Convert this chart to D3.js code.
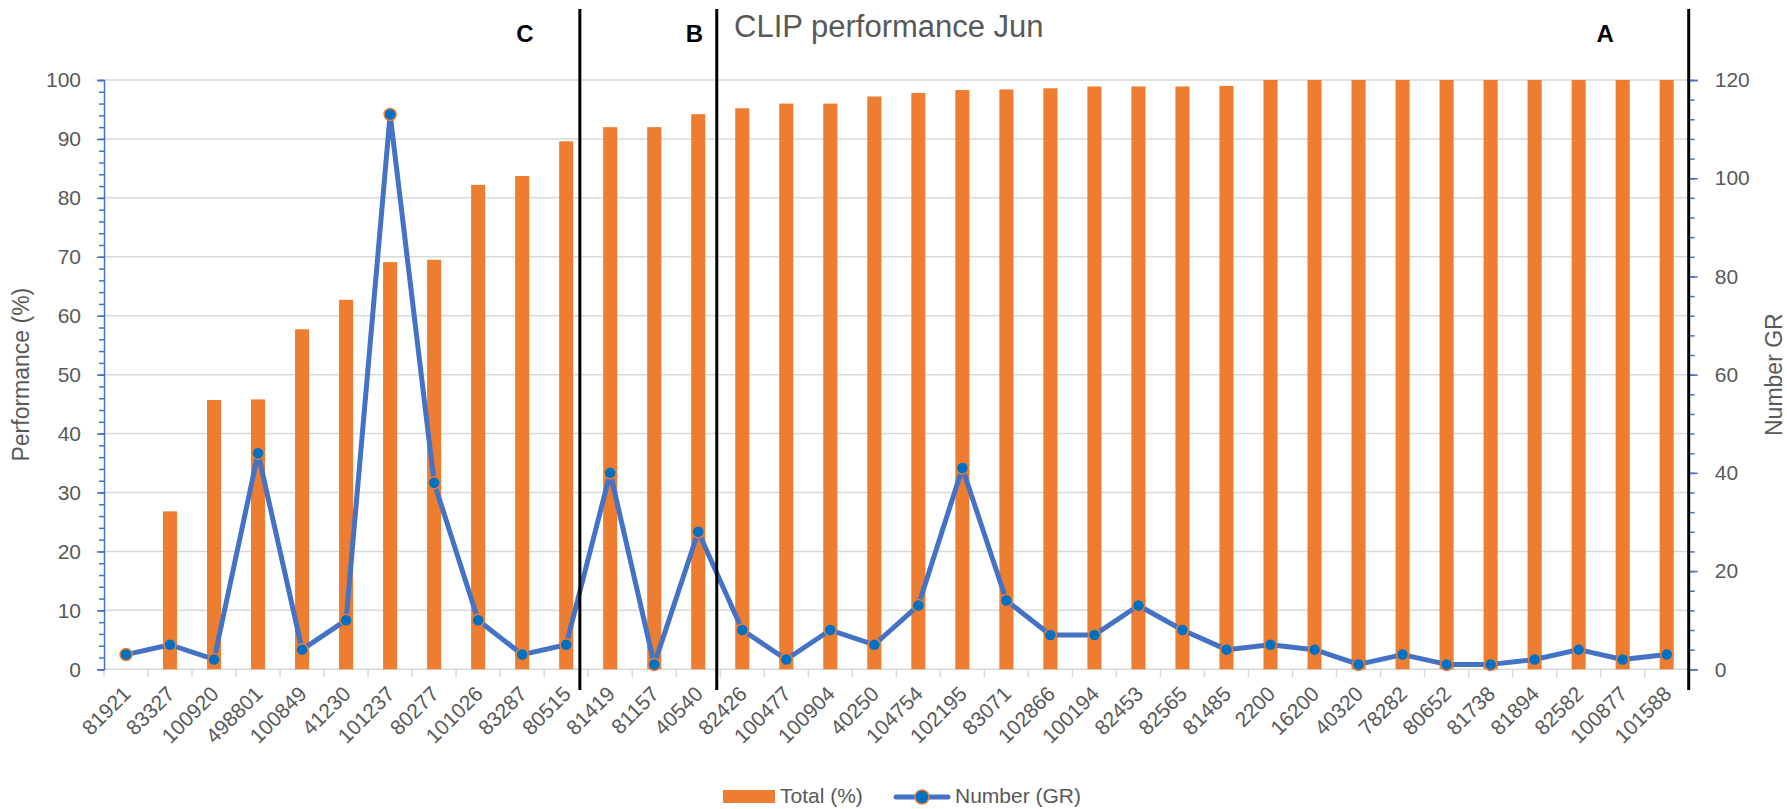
<!DOCTYPE html>
<html><head><meta charset="utf-8">
<script src="https://cdn.jsdelivr.net/npm/d3@7"></script>
<style>body{margin:0;background:#fff} svg{display:block} text{font-family:"Liberation Sans",Arial,sans-serif}</style>
</head><body><svg id="c" width="1787" height="809"></svg>
<script>
const categories = ["81921","83327","100920","498801","100849","41230","101237","80277","101026","83287","80515","81419","81157","40540","82426","100477","100904","40250","104754","102195","83071","102866","100194","82453","82565","81485","2200","16200","40320","78282","80652","81738","81894","82582","100877","101588"];
const totalPct = [0,26.8,45.7,45.8,57.7,62.7,69.1,69.5,82.2,83.7,89.6,92.0,92.0,94.2,95.2,96.0,96.0,97.2,97.8,98.3,98.4,98.6,98.9,98.9,98.9,99.0,100,100,100,100,100,100,100,100,100,100];
const numberGR = [3,5,2,44,4,10,113,38,10,3,5,40,1,28,8,2,8,5,13,41,14,7,7,13,8,4,5,4,1,3,1,1,2,4,2,3];
const leftTicks = [0,10,20,30,40,50,60,70,80,90,100];
const rightTicks = [0,20,40,60,80,100,120];
const seriesNames = ["Total (%)","Number (GR)"];
const chartTitle = "CLIP performance Jun";
const leftTitle = "Performance (%)";
const rightTitle = "Number GR";
// group dividers and labels, positions in category units
const dividers = [10.81, 13.92, 36];
const groupLabels = [{t:"C", pos:9.56},{t:"B", pos:13.41},{t:"A", pos:34.1}];

const W=1787,H=809;
const m={left:104,right:1688.7,top:80,bottom:669.3};
const svg=d3.select("#c");
const TXT="#595959", GRID="#D9D9D9", BLUE="#4472C4", ORANGE="#ED7D31", MARK="#0070C0";

const x=d3.scaleBand().domain(categories).range([m.left,m.right]).paddingInner(0.68).paddingOuter(0.34);
const xi=d3.scaleLinear().domain([0,categories.length]).range([m.left,m.right]);
const yL=d3.scaleLinear().domain([0,100]).range([m.bottom,m.top]);
const yR=d3.scaleLinear().domain([0,120]).range([m.bottom,m.top]);

// gridlines
svg.append("g").selectAll("line").data(leftTicks).join("line")
  .attr("x1",m.left).attr("x2",m.right).attr("y1",d=>yL(d)).attr("y2",d=>yL(d))
  .attr("stroke",GRID).attr("stroke-width",1.5);

// x tick marks at band boundaries
svg.append("g").selectAll("line").data(d3.range(categories.length+1)).join("line")
  .attr("x1",d=>xi(d)).attr("x2",d=>xi(d)).attr("y1",m.bottom).attr("y2",m.bottom+8)
  .attr("stroke",GRID).attr("stroke-width",1.5);

// bars
svg.append("g").selectAll("rect").data(categories).join("rect")
  .attr("x",d=>x(d)).attr("width",x.bandwidth())
  .attr("y",(d,i)=>yL(totalPct[i])).attr("height",(d,i)=>m.bottom-yL(totalPct[i]))
  .attr("fill",ORANGE);

// left axis
const gL=svg.append("g").attr("transform",`translate(${m.left},0)`);
gL.call(d3.axisLeft(yL).tickValues(d3.range(0,101,2)).tickSize(5).tickFormat(""));
gL.call(g=>g.selectAll(".tick line").attr("stroke",BLUE).attr("stroke-width",1.5));
const gL2=svg.append("g").attr("transform",`translate(${m.left},0)`);
gL2.call(d3.axisLeft(yL).tickValues(leftTicks).tickSize(7).tickPadding(16));
gL2.selectAll(".tick line").attr("stroke",BLUE).attr("stroke-width",1.5);
gL2.select(".domain").attr("stroke",BLUE).attr("stroke-width",1.5);
gL.select(".domain").remove();
gL2.selectAll(".tick text").attr("fill",TXT).style("font-size","21px").style("font-family","Liberation Sans, Arial, sans-serif");

// right axis
const gR=svg.append("g").attr("transform",`translate(${m.right},0)`);
gR.call(d3.axisRight(yR).tickValues(d3.range(0,121,4)).tickSize(6).tickFormat(""));
gR.selectAll(".tick line").attr("stroke",BLUE).attr("stroke-width",1.5);
gR.select(".domain").remove();
const gR2=svg.append("g").attr("transform",`translate(${m.right},0)`);
gR2.call(d3.axisRight(yR).tickValues(rightTicks).tickSize(9).tickPadding(17));
gR2.selectAll(".tick line").attr("stroke",BLUE).attr("stroke-width",1.5);
gR2.select(".domain").attr("stroke",BLUE).attr("stroke-width",1.5);
gR2.selectAll(".tick text").attr("fill",TXT).style("font-size","21px").style("font-family","Liberation Sans, Arial, sans-serif");

// x labels
svg.append("g").selectAll("text").data(categories).join("text")
  .attr("transform",d=>`translate(${x(d)+x.bandwidth()/2+6},${m.bottom+26}) rotate(-45)`)
  .attr("text-anchor","end").attr("fill",TXT).style("font-size","21px").text(d=>d);

// line
const cx=d=>x(d)+x.bandwidth()/2;
svg.append("path").datum(categories)
  .attr("d",d3.line().x(d=>cx(d)).y((d,i)=>yR(numberGR[i])))
  .attr("fill","none").attr("stroke",BLUE).attr("stroke-width",5).attr("stroke-linejoin","round");
svg.append("g").selectAll("circle").data(categories).join("circle")
  .attr("cx",cx).attr("cy",(d,i)=>yR(numberGR[i])).attr("r",6)
  .attr("fill",MARK).attr("stroke",ORANGE).attr("stroke-width",1.5);

// dividers
svg.append("g").selectAll("line").data(dividers).join("line")
  .attr("x1",d=>xi(d)).attr("x2",d=>xi(d)).attr("y1",9).attr("y2",690)
  .attr("stroke","#000").attr("stroke-width",3);
svg.append("g").selectAll("text").data(groupLabels).join("text")
  .attr("x",d=>xi(d.pos)).attr("y",42).attr("text-anchor","middle")
  .attr("fill","#000").style("font-size","24px").style("font-weight","bold").text(d=>d.t);

// title
svg.append("text").attr("x",734).attr("y",37).attr("fill",TXT).style("font-size","31px").text(chartTitle);

// axis titles
svg.append("text").attr("transform",`translate(29,${(m.top+m.bottom)/2}) rotate(-90)`)
  .attr("text-anchor","middle").attr("fill",TXT).style("font-size","23px").text(leftTitle);
svg.append("text").attr("transform",`translate(1782,${(m.top+m.bottom)/2}) rotate(-90)`)
  .attr("text-anchor","middle").attr("fill",TXT).style("font-size","23px").text(rightTitle);

// legend
const lg=svg.append("g");
lg.append("rect").attr("x",723).attr("y",790).attr("width",52).attr("height",13).attr("fill",ORANGE);
lg.append("text").attr("x",780).attr("y",803).attr("fill",TXT).style("font-size","21px").text(seriesNames[0]);
lg.append("line").attr("x1",896).attr("x2",948).attr("y1",797).attr("y2",797)
  .attr("stroke",BLUE).attr("stroke-width",5).attr("stroke-linecap","round");
lg.append("circle").attr("cx",922).attr("cy",797).attr("r",7).attr("fill",MARK).attr("stroke",ORANGE).attr("stroke-width",1.5);
lg.append("text").attr("x",955).attr("y",803).attr("fill",TXT).style("font-size","21px").text(seriesNames[1]);
</script></body></html>
